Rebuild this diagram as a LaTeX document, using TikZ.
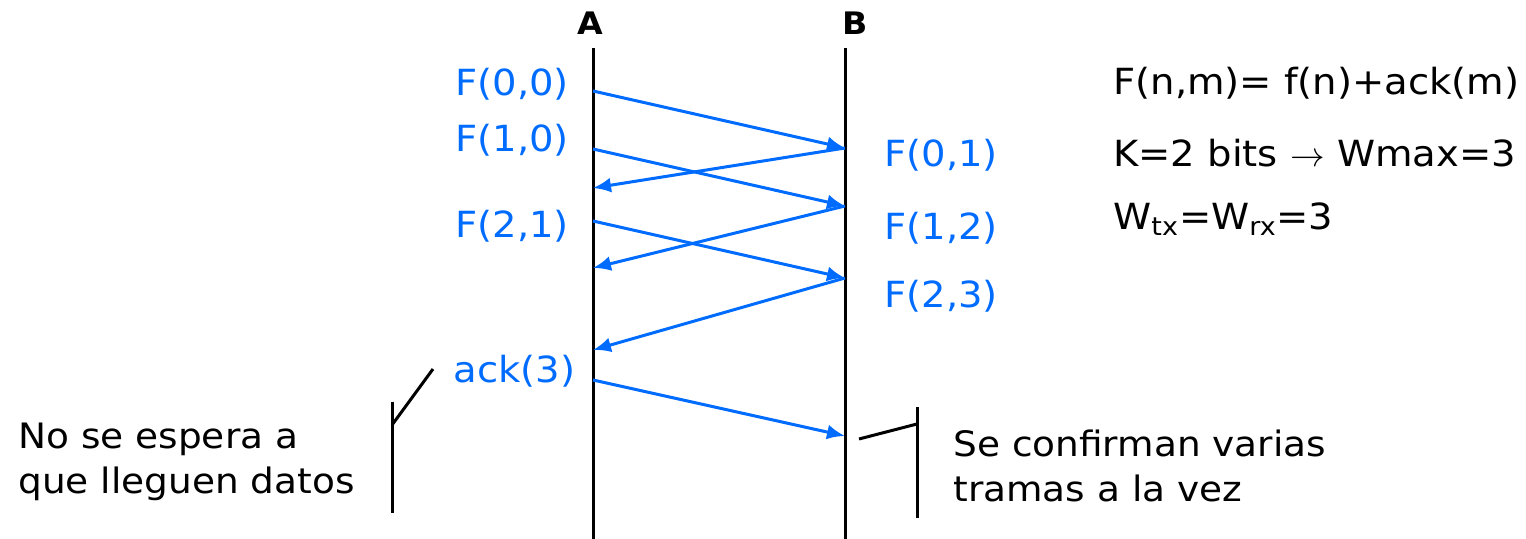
\documentclass[tikz,border=0pt]{standalone}
\usepackage{fontspec}
\setmainfont{DejaVu Sans}[FakeStretch=1.07]
\usepackage{xcolor}
\usetikzlibrary{arrows.meta}
\definecolor{msgblue}{RGB}{0,108,255}

\begin{document}
\begin{tikzpicture}[x=0.5pt,y=-0.5pt,
    msg/.style={draw=msgblue,line width=1.5pt,-{Latex[length=9pt,width=7.5pt]}},
    txt/.style={font=\fontsize{18}{22.5}\selectfont,inner sep=0pt,align=left},
    frame/.style={txt,text=msgblue,anchor=base west},
    note/.style={txt,anchor=base west},
    bar/.style={line width=1.5pt}]
  \useasboundingbox (0,0) rectangle (1526,539);
  % stations
  \coordinate (Atop) at (593,48);  \coordinate (Abot) at (593,539);
  \coordinate (Btop) at (845,48);  \coordinate (Bbot) at (845,539);
  \draw[bar] (Atop) -- (Abot);
  \draw[bar] (Btop) -- (Bbot);
  \node[font=\fontsize{15.5}{17}\selectfont\bfseries,anchor=base] (labA) at (590,35) {A};
  \node[font=\fontsize{15.5}{17}\selectfont\bfseries,anchor=base] (labB) at (855,35) {B};
  % end points of the frames
  \coordinate (a1) at (593,91);  \coordinate (a2) at (593,149);
  \coordinate (a3) at (593,188); \coordinate (a4) at (593,268);
  \coordinate (a5) at (593,221); \coordinate (a6) at (593,350);
  \coordinate (a7) at (593,380);
  \coordinate (b1) at (845,148); \coordinate (b2) at (845,206);
  \coordinate (b3) at (845,278); \coordinate (b4) at (845,436);
  \foreach \s/\t in {a1/b1,b1/a3,a2/b2,b2/a4,a5/b3,b3/a6,a7/b4}
    \draw[msg] (\s) -- (\t);
  % frame labels
  \node[frame] (f00) at (455,96)  {F(0,0)};
  \node[frame] (f10) at (455,152) {F(1,0)};
  \node[frame] (f21) at (455,238) {F(2,1)};
  \node[frame] (ack) at (453,383) {ack(3)};
  \node[frame] (f01) at (884,167) {F(0,1)};
  \node[frame] (f12) at (884,240) {F(1,2)};
  \node[frame] (f23) at (884,308) {F(2,3)};
  % legend
  \node[note] (def)  at (1113,95)  {F(n,m)= f(n)+ack(m)};
  \node[note] (kbit) at (1113,167) {K=2 bits $\rightarrow$ Wmax=3};
  \node[note] (win)  at (1113,230) {W\textsubscript{tx}=W\textsubscript{rx}=3};
  % remarks
  \node[note,font=\fontsize{17.5}{22.5}\selectfont] (nowait) at (18,494)  {No se espera a\\que lleguen datos};
  \coordinate (lt) at (392,402); \coordinate (lb) at (392,513);
  \coordinate (lk) at (392,425); \coordinate (lp) at (433,369);
  \draw[bar] (lt) -- (lb);
  \draw[bar] (lk) -- (lp);
  \node[note,font=\fontsize{17.5}{22.5}\selectfont] (multi) at (953,502) {Se confirman varias\\tramas a la vez};
  \coordinate (rt) at (917,407); \coordinate (rb) at (917,518);
  \coordinate (rk) at (917,424); \coordinate (rp) at (859,439);
  \draw[bar] (rt) -- (rb);
  \draw[bar] (rk) -- (rp);
\end{tikzpicture}
\end{document}
